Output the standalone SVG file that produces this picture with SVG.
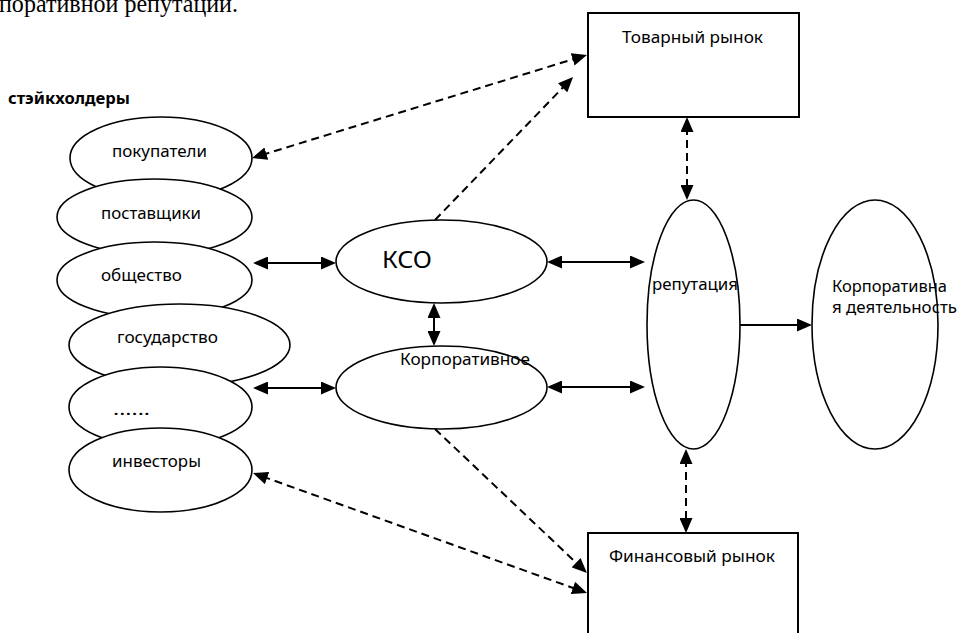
<svg xmlns="http://www.w3.org/2000/svg" width="957" height="633" viewBox="0 0 957 633">
<style>
.n{fill:#fff;stroke:#000;stroke-width:1.6}
.b{fill:#fff;stroke:#000;stroke-width:2}
.t{font-family:"Noto Sans","Open Sans",sans-serif;font-size:17px;fill:#000}
.s{stroke:#000;stroke-width:2;fill:none}
.d{stroke:#000;stroke-width:2;fill:none;stroke-dasharray:8 5}
</style>
<defs>
<marker id="a" markerUnits="userSpaceOnUse" markerWidth="15" markerHeight="13" refX="5" refY="6.5" orient="auto-start-reverse" viewBox="0 0 15 13">
<path d="M0,0 L15,6.5 L0,13 z" fill="#000"/>
</marker>
</defs>
<rect width="957" height="633" fill="#fff"/>
<text x="-1" y="12" style="font-family:'Liberation Serif',serif;font-size:25px" textLength="239" lengthAdjust="spacingAndGlyphs">поративной репутации.</text>
<text x="8" y="104" class="t" style="font-weight:bold;font-size:16.5px" textLength="122" lengthAdjust="spacingAndGlyphs">стэйкхолдеры</text>
<g id="pokupateli"><ellipse class="n" cx="161" cy="158" rx="91" ry="41"/><text class="t" x="112" y="157" textLength="95" lengthAdjust="spacingAndGlyphs">покупатели</text></g>
<g id="postavshiki"><ellipse class="n" cx="154.5" cy="217" rx="97.5" ry="38"/><text class="t" x="101" y="219" textLength="100" lengthAdjust="spacingAndGlyphs">поставщики</text></g>
<g id="obshestvo"><ellipse class="n" cx="154.5" cy="280" rx="97.5" ry="38"/><text class="t" x="101" y="281" textLength="81" lengthAdjust="spacingAndGlyphs">общество</text></g>
<g id="gosudarstvo"><ellipse class="n" cx="179.5" cy="345" rx="110.5" ry="41"/><text class="t" x="117" y="343" textLength="101" lengthAdjust="spacingAndGlyphs">государство</text></g>
<g id="dots"><ellipse class="n" cx="160.5" cy="407" rx="91.5" ry="40"/><text class="t" x="113" y="415" textLength="37" lengthAdjust="spacingAndGlyphs">......</text></g>
<g id="investory"><ellipse class="n" cx="160.5" cy="470" rx="91.5" ry="42"/><text class="t" x="112" y="467" textLength="89" lengthAdjust="spacingAndGlyphs">инвесторы</text></g>
<g id="kso"><ellipse class="n" cx="441.5" cy="261.5" rx="105.5" ry="41.5"/><text class="t" x="382" y="268" style="font-size:24px" textLength="50" lengthAdjust="spacingAndGlyphs">КСО</text></g>
<g id="korp"><ellipse class="n" cx="441.5" cy="387.5" rx="105.5" ry="41.5"/><text class="t" x="400" y="365" textLength="130" lengthAdjust="spacingAndGlyphs">Корпоративное</text></g>
<g id="reputacia"><ellipse class="n" cx="693.5" cy="324.5" rx="46.5" ry="124.5"/><text class="t" x="652" y="290" textLength="86" lengthAdjust="spacingAndGlyphs">репутация</text></g>
<g id="korpdeyat"><ellipse class="n" cx="875" cy="324.5" rx="63" ry="124.5"/><text class="t" x="832" y="292" textLength="115" lengthAdjust="spacingAndGlyphs">Корпоративна</text><text class="t" x="832" y="313" textLength="125" lengthAdjust="spacingAndGlyphs">я деятельность</text></g>
<g id="tovarny"><rect class="b" x="588" y="13" width="211" height="104"/><text class="t" x="622" y="43" textLength="141" lengthAdjust="spacingAndGlyphs">Товарный рынок</text></g>
<g id="finansovy"><rect class="b" x="588" y="533" width="210" height="112"/><text class="t" x="609" y="562" textLength="166" lengthAdjust="spacingAndGlyphs">Финансовый рынок</text></g>
<g id="connectors">
<line class="s" x1="263" y1="263" x2="326" y2="263" marker-start="url(#a)" marker-end="url(#a)"/>
<line class="s" x1="263" y1="388" x2="326" y2="388" marker-start="url(#a)" marker-end="url(#a)"/>
<line class="s" x1="557" y1="262" x2="635" y2="262" marker-start="url(#a)" marker-end="url(#a)"/>
<line class="s" x1="557" y1="387" x2="635" y2="387" marker-start="url(#a)" marker-end="url(#a)"/>
<line class="s" x1="434" y1="313" x2="434" y2="336" marker-start="url(#a)" marker-end="url(#a)"/>
<line class="s" x1="740" y1="325" x2="802" y2="325" marker-end="url(#a)"/>
<line class="d" x1="687" y1="127" x2="687" y2="190" marker-start="url(#a)" marker-end="url(#a)"/>
<line class="d" x1="686" y1="459" x2="686" y2="523" marker-start="url(#a)" marker-end="url(#a)"/>
<line class="d" x1="261.6" y1="155.1" x2="577.4" y2="57.9" marker-start="url(#a)" marker-end="url(#a)"/>
<line class="d" x1="435" y1="220" x2="566.1" y2="84.2" marker-end="url(#a)"/>
<line class="d" x1="435" y1="429" x2="579.7" y2="566.1" marker-end="url(#a)"/>
<line class="d" x1="262.4" y1="476.4" x2="577.6" y2="589.6" marker-start="url(#a)" marker-end="url(#a)"/>
</g>
</svg>
